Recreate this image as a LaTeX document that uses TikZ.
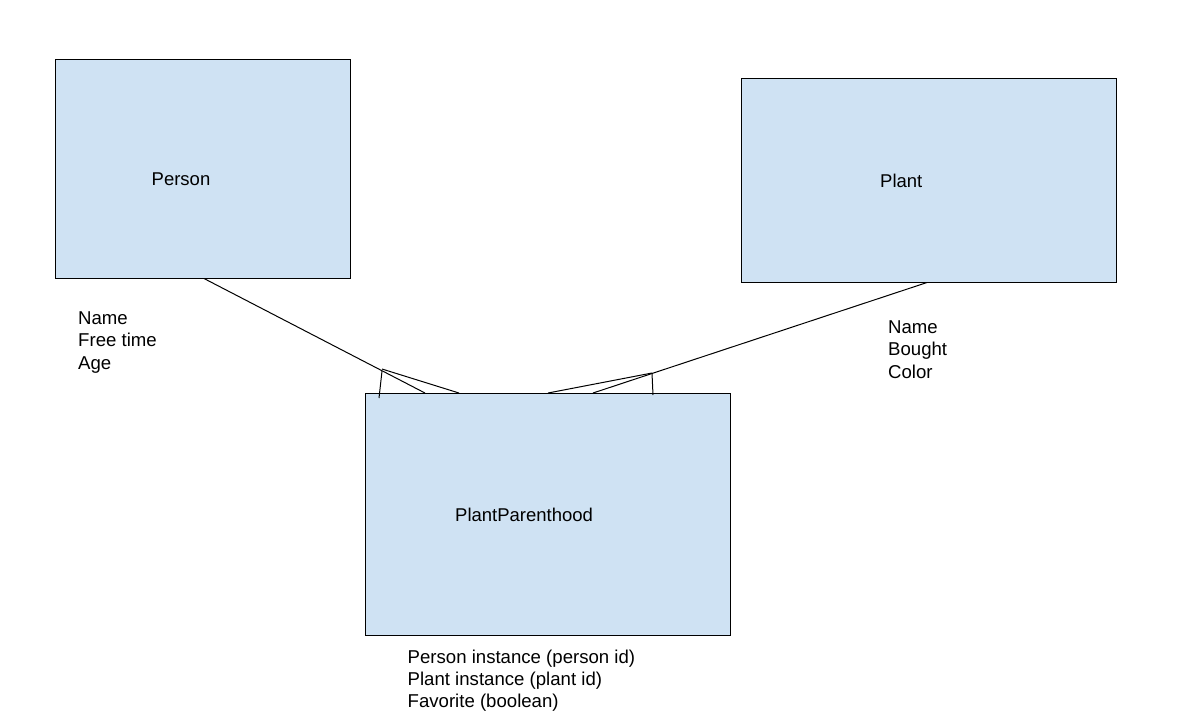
\documentclass[tikz,border=0pt]{standalone}
\usepackage{fontspec}
\setmainfont{Liberation Sans}
\definecolor{boxblue}{HTML}{CFE2F3}
\begin{document}
\begin{tikzpicture}[x=1pt,y=-1pt,
  entity/.style={draw=black, fill=boxblue, line width=1pt, inner sep=0pt},
  label/.style={anchor=base west, inner sep=0pt, font=\fontsize{18.5}{22}\selectfont},
  attrs/.style={anchor=north west, inner sep=0pt, align=left, font=\fontsize{18.6}{22.4}\selectfont},
  link/.style={line width=1pt}]
\useasboundingbox (0,0) rectangle (1193,713);
% entities
\node[entity, minimum width=295pt, minimum height=219pt] (person) at (202.5,168.5) {};
\node[entity, minimum width=375pt, minimum height=204pt] (plant) at (928.5,180) {};
\node[entity, minimum width=365pt, minimum height=242pt] (pp) at (547.5,514) {};
% entity titles
\node[label] (personlbl) at (151.5,185) {Person};
\node[label] (plantlbl) at (880,187) {Plant};
\node[label] (pplbl) at (455,521) {PlantParenthood};
% attributes
\node[attrs] (personattr) at (78,311.5) {Name\\Free time\\Age};
\node[attrs] (plantattr) at (888,320.5) {Name\\Bought\\Color};
\node[attrs] (ppattr) at (407.5,649.5) {Person instance (person id)\\Plant instance (plant id)\\Favorite (boolean)};
% crow's foot points
\coordinate (j1) at (382,369);
\coordinate (a1) at (425,393);
\coordinate (b1) at (459,393);
\coordinate (t1a) at (382,371);
\coordinate (t1b) at (379,398);
\coordinate (j2) at (652,373);
\coordinate (a2) at (593,393);
\coordinate (b2) at (548,393);
\coordinate (t2b) at (653,395);
% connectors
\draw[link] ([xshift=1.5pt]person.south) -- (a1);
\draw[link] (j1) -- (b1);
\draw[link] (t1a) -- (t1b);
\draw[link] ([xshift=-1.5pt]plant.south) -- (a2);
\draw[link] (j2) -- (b2);
\draw[link] (j2) -- (t2b);
\end{tikzpicture}
\end{document}
